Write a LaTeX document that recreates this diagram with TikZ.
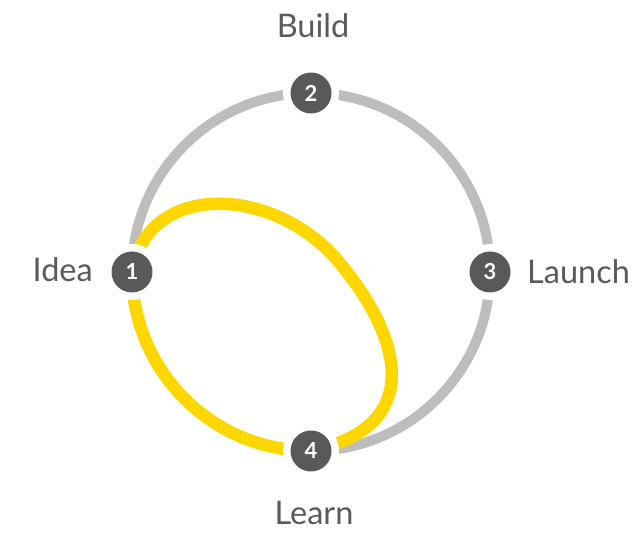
\documentclass[tikz,border=0pt]{standalone}
\usepackage{fontspec}
\setmainfont{Lato}
\definecolor{ringgray}{HTML}{BDBDBD}
\definecolor{loopyellow}{HTML}{FFD700}
\definecolor{nodedark}{HTML}{595959}
\definecolor{labelgray}{HTML}{5A5A5A}
\begin{document}
\begin{tikzpicture}[x=1pt,y=1pt,
  stepdot/.style={circle, minimum size=41pt, inner sep=0pt, fill=nodedark,
    preaction={draw=white, line width=15pt},
    text=white, font=\bfseries\fontsize{22}{26}\selectfont},
  steplabel/.style={inner sep=0pt, text=labelgray, font=\fontsize{32.5}{38}\selectfont},
  ringline/.style={draw=ringgray, line width=10pt},
  loopline/.style={draw=loopyellow, line width=12.5pt}]
\useasboundingbox (0,0) rectangle (632,534);
% ring
\coordinate (c) at (311,262);
\draw[ringline] (c) circle[radius=179pt];
% yellow loop
\coordinate (n1pos) at (132,262);
\coordinate (n4pos) at (311,83);
\coordinate (mid) at (342,268);
\draw[loopline] (n1pos) arc[start angle=180, end angle=270, radius=179pt];
\draw[loopline] (n1pos) .. controls (148,356) and (280,348) .. (mid)
  .. controls (395,204) and (432,109) .. (n4pos);
% nodes
\node[stepdot] (n1) at (n1pos) {1};
\node[stepdot] (n2) at (311,441) {2};
\node[stepdot] (n3) at (490,262) {3};
\node[stepdot] (n4) at (n4pos) {4};
% labels
\node[steplabel, anchor=base] (lb) at (313,496) {Build};
\node[steplabel, anchor=base east] (li) at (93,252) {Idea};
\node[steplabel, anchor=base west] (ll) at (527,250) {Launch};
\node[steplabel, anchor=base] (le) at (314,9) {Learn};
\end{tikzpicture}
\end{document}
